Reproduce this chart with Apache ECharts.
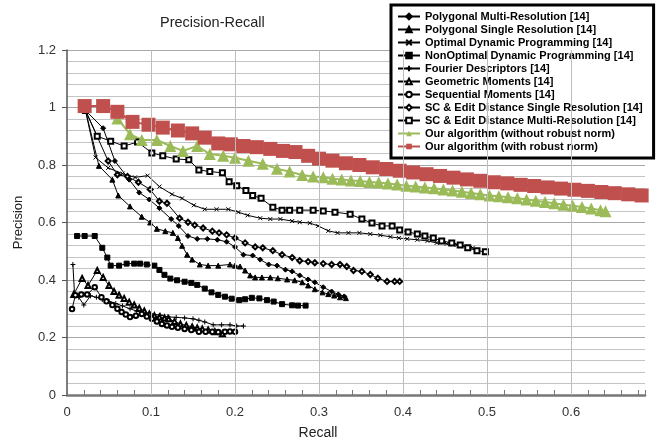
<!DOCTYPE html>
<html>
<head>
<meta charset="utf-8">
<script type="text/javascript" src="https://cdn.jsdelivr.net/npm/echarts@6.0.0/dist/echarts.min.js"></script>
</head>
<body style="margin:0; background:#fff;">
<div id="container" style="width:659px; height:445px;"></div>
<script type="text/javascript">
	// recall / precision pairs
	var polyMulti = [[0.022,0.99],[0.043,0.928],[0.057,0.814],[0.074,0.749],[0.086,0.704],[0.098,0.680],[0.110,0.650],[0.124,0.612],[0.133,0.588],[0.144,0.553],[0.155,0.543],[0.167,0.543],[0.179,0.540],[0.190,0.533],[0.200,0.515],[0.210,0.488],[0.221,0.485],[0.230,0.471],[0.240,0.454],[0.250,0.450],[0.260,0.436],[0.268,0.430],[0.277,0.416],[0.287,0.402],[0.295,0.392],[0.305,0.375],[0.315,0.360],[0.323,0.350],[0.330,0.343]];
	var polySingle = [[0.022,0.99],[0.038,0.797],[0.054,0.749],[0.061,0.694],[0.075,0.656],[0.089,0.620],[0.099,0.600],[0.107,0.578],[0.117,0.570],[0.126,0.564],[0.132,0.546],[0.137,0.519],[0.143,0.488],[0.149,0.471],[0.158,0.454],[0.168,0.450],[0.180,0.450],[0.194,0.454],[0.200,0.450],[0.206,0.447],[0.212,0.433],[0.218,0.416],[0.224,0.409],[0.232,0.409],[0.242,0.409],[0.251,0.406],[0.262,0.402],[0.271,0.399],[0.280,0.392],[0.287,0.381],[0.295,0.368],[0.304,0.357],[0.311,0.351],[0.318,0.346],[0.325,0.340],[0.332,0.337]];
	var optimalDP = [[0.022,0.99],[0.034,0.826],[0.049,0.790],[0.066,0.770],[0.081,0.757],[0.096,0.763],[0.110,0.725],[0.125,0.698],[0.137,0.684],[0.151,0.660],[0.164,0.646],[0.178,0.646],[0.192,0.646],[0.204,0.636],[0.215,0.625],[0.230,0.615],[0.242,0.612],[0.254,0.612],[0.268,0.605],[0.277,0.601],[0.289,0.598],[0.299,0.588],[0.311,0.571],[0.322,0.564],[0.335,0.564],[0.348,0.564],[0.361,0.560],[0.373,0.556],[0.385,0.550],[0.395,0.546],[0.405,0.543],[0.417,0.540],[0.429,0.536],[0.440,0.529],[0.452,0.526],[0.464,0.522],[0.476,0.515],[0.483,0.512]];
	var nonOptimalDP = [[0.012,0.553],[0.021,0.553],[0.033,0.553],[0.042,0.512],[0.048,0.478],[0.052,0.450],[0.062,0.450],[0.071,0.457],[0.080,0.457],[0.087,0.457],[0.095,0.454],[0.104,0.450],[0.110,0.435],[0.116,0.418],[0.123,0.405],[0.131,0.399],[0.140,0.394],[0.148,0.390],[0.155,0.383],[0.164,0.370],[0.172,0.357],[0.180,0.348],[0.188,0.342],[0.196,0.335],[0.205,0.330],[0.212,0.333],[0.220,0.338],[0.229,0.336],[0.238,0.330],[0.246,0.325],[0.256,0.316],[0.268,0.312],[0.275,0.311],[0.284,0.311]];
	var fourier = [[0.007,0.454],[0.009,0.350],[0.014,0.340],[0.020,0.313],[0.028,0.345],[0.035,0.340],[0.042,0.332],[0.050,0.325],[0.058,0.318],[0.066,0.310],[0.075,0.300],[0.083,0.292],[0.092,0.285],[0.100,0.282],[0.111,0.278],[0.120,0.272],[0.130,0.270],[0.140,0.268],[0.150,0.265],[0.157,0.260],[0.164,0.254],[0.174,0.244],[0.184,0.244],[0.194,0.244],[0.202,0.240],[0.210,0.240]];
	var geometric = [[0.008,0.350],[0.018,0.405],[0.025,0.381],[0.036,0.433],[0.043,0.409],[0.050,0.381],[0.056,0.360],[0.062,0.347],[0.068,0.336],[0.074,0.323],[0.080,0.313],[0.086,0.302],[0.092,0.292],[0.098,0.282],[0.104,0.276],[0.110,0.271],[0.116,0.268],[0.121,0.265],[0.128,0.256],[0.135,0.247],[0.142,0.242],[0.149,0.237],[0.155,0.233],[0.161,0.230],[0.168,0.226],[0.176,0.220],[0.185,0.213]];
	var sequential = [[0.006,0.299],[0.010,0.347],[0.017,0.350],[0.024,0.350],[0.033,0.375],[0.041,0.340],[0.047,0.326],[0.054,0.313],[0.060,0.300],[0.065,0.289],[0.070,0.280],[0.075,0.271],[0.082,0.276],[0.089,0.282],[0.095,0.273],[0.101,0.265],[0.107,0.256],[0.113,0.247],[0.119,0.242],[0.125,0.237],[0.132,0.234],[0.140,0.230],[0.148,0.226],[0.157,0.220],[0.165,0.220],[0.173,0.220],[0.180,0.219],[0.188,0.220],[0.194,0.221],[0.200,0.220]];
	var scSingle = [[0.022,0.99],[0.049,0.814],[0.060,0.766],[0.072,0.760],[0.085,0.740],[0.099,0.715],[0.110,0.674],[0.119,0.667],[0.134,0.615],[0.144,0.601],[0.152,0.591],[0.162,0.581],[0.173,0.570],[0.181,0.564],[0.190,0.557],[0.200,0.546],[0.212,0.529],[0.224,0.515],[0.233,0.512],[0.245,0.502],[0.256,0.488],[0.268,0.478],[0.277,0.467],[0.287,0.464],[0.295,0.460],[0.305,0.457],[0.315,0.454],[0.325,0.454],[0.333,0.447],[0.341,0.433],[0.351,0.430],[0.361,0.419],[0.370,0.406],[0.381,0.395],[0.390,0.395],[0.396,0.395]];
	var scMulti = [[0.022,0.99],[0.036,0.900],[0.052,0.883],[0.068,0.866],[0.084,0.880],[0.101,0.842],[0.114,0.832],[0.130,0.821],[0.145,0.818],[0.157,0.783],[0.170,0.777],[0.185,0.773],[0.193,0.742],[0.202,0.728],[0.213,0.711],[0.221,0.694],[0.231,0.684],[0.245,0.653],[0.256,0.643],[0.265,0.643],[0.277,0.643],[0.293,0.643],[0.305,0.640],[0.319,0.636],[0.337,0.629],[0.351,0.612],[0.363,0.598],[0.375,0.588],[0.387,0.588],[0.396,0.574],[0.406,0.567],[0.417,0.560],[0.426,0.553],[0.436,0.546],[0.446,0.536],[0.458,0.529],[0.468,0.522],[0.477,0.512],[0.488,0.502],[0.498,0.498]];
	var oursPlain = [[0.060,0.962],[0.075,0.907],[0.089,0.887],[0.107,0.887],[0.123,0.866],[0.138,0.849],[0.155,0.866],[0.170,0.838],[0.186,0.832],[0.200,0.825],[0.216,0.815],[0.233,0.804],[0.250,0.787],[0.265,0.777],[0.280,0.765],[0.293,0.760],[0.305,0.757],[0.316,0.752],[0.327,0.750],[0.338,0.746],[0.349,0.744],[0.360,0.741],[0.371,0.739],[0.382,0.736],[0.393,0.732],[0.404,0.728],[0.415,0.725],[0.426,0.722],[0.437,0.719],[0.448,0.715],[0.459,0.711],[0.470,0.707],[0.481,0.703],[0.492,0.698],[0.503,0.694],[0.514,0.691],[0.525,0.688],[0.536,0.684],[0.547,0.680],[0.558,0.676],[0.569,0.671],[0.580,0.667],[0.591,0.662],[0.602,0.658],[0.613,0.654],[0.624,0.649],[0.635,0.643],[0.641,0.639]];
	var oursRobust = [[0.021,1.005],[0.043,1.005],[0.060,0.985],[0.078,0.950],[0.097,0.940],[0.114,0.930],[0.132,0.920],[0.149,0.910],[0.164,0.895],[0.180,0.875],[0.195,0.872],[0.210,0.866],[0.226,0.862],[0.242,0.856],[0.257,0.849],[0.272,0.845],[0.287,0.832],[0.300,0.822],[0.316,0.815],[0.332,0.806],[0.348,0.800],[0.364,0.792],[0.380,0.786],[0.396,0.780],[0.412,0.774],[0.428,0.768],[0.444,0.762],[0.460,0.756],[0.476,0.750],[0.492,0.745],[0.508,0.740],[0.524,0.736],[0.540,0.731],[0.556,0.727],[0.572,0.722],[0.588,0.718],[0.604,0.714],[0.620,0.710],[0.636,0.706],[0.652,0.702],[0.668,0.698],[0.684,0.694]];

	var names = [
		'Polygonal Multi-Resolution [14]',
		'Polygonal Single Resolution [14]',
		'Optimal Dynamic Programming [14]',
		'NonOptimal Dynamic Programming [14]',
		'Fourier Descriptors [14]',
		'Geometric Moments [14]',
		'Sequential Moments [14]',
		'SC & Edit Distance Single Resolution [14]',
		'SC & Edit Distance Multi-Resolution [14]',
		'Our algorithm (without robust norm)',
		'Our algorithm (with robust norm)'
	];
	var xGridValues = [0.1, 0.2, 0.3, 0.4, 0.5, 0.6];

	var font = 'Liberation Sans, Arial, sans-serif';

	function blackLine(name, data, symbol, size) {
		return {
			name: name,
			type: 'line',
			data: data,
			symbol: symbol,
			symbolSize: size,
			showSymbol: true,
			lineStyle: {
				color: '#000',
				width: 1
			},
			itemStyle: {
				color: '#000',
				borderColor: '#000',
				borderWidth: 1
			}
		};
	}

	var series = [
		blackLine(names[0], polyMulti, 'diamond', 5),
		blackLine(names[1], polySingle, 'triangle', 5),
		blackLine(names[2], optimalDP, 'path://M0,0L10,10M10,0L0,10', 4),
		blackLine(names[3], nonOptimalDP, 'rect', 5),
		blackLine(names[4], fourier, 'path://M5,0L5,10M0,5L10,5', 5),
		blackLine(names[5], geometric, 'emptyTriangle', 5),
		blackLine(names[6], sequential, 'emptyCircle', 4.5),
		blackLine(names[7], scSingle, 'emptyDiamond', 5),
		blackLine(names[8], scMulti, 'emptyRect', 5),
		{
			name: names[9],
			type: 'line',
			data: oursPlain,
			symbol: 'triangle',
			symbolSize: 12,
			lineStyle: { color: '#9bbb59', width: 2 },
			itemStyle: { color: '#9bbb59' }
		},
		{
			name: names[10],
			type: 'line',
			data: oursRobust,
			symbol: 'rect',
			symbolSize: 14,
			lineStyle: { color: '#c0504d', width: 2 },
			itemStyle: { color: '#c0504d' }
		}
	];
	// vertical grid lines at the labelled recall values
	series[0].markLine = {
		silent: true,
		symbol: 'none',
		label: { show: false },
		lineStyle: { color: '#bdbdbd', width: 1, type: 'solid' },
		data: xGridValues.map(function (v) { return { xAxis: v }; })
	};

	var dom = document.getElementById('container');
	var myChart = echarts.init(dom, null, { renderer: 'canvas' });
	var option = {
		animation: false,
		backgroundColor: '#fff',
		textStyle: { fontFamily: font },
		title: {
			text: 'Precision-Recall',
			left: 155,
			top: 10,
			textStyle: {
				fontFamily: font,
				fontSize: 14.5,
				fontWeight: 'normal',
				color: '#222'
			}
		},
		legend: {
			data: names,
			orient: 'vertical',
			left: 391,
			top: 5,
			padding: [6, 11, 6, 6],
			itemGap: 2,
			itemWidth: 22,
			itemHeight: 7,
			borderColor: '#000',
			borderWidth: 3,
			backgroundColor: '#fff',
			textStyle: {
				fontFamily: font,
				fontSize: 11,
				fontWeight: 'bold',
				color: '#000'
			}
		},
		grid: {
			left: 67,
			right: 14,
			top: 50,
			bottom: 46
		},
		xAxis: {
			type: 'value',
			min: 0,
			max: 0.688,
			interval: 0.1,
			name: 'Recall',
			nameLocation: 'middle',
			nameGap: 31,
			nameTextStyle: {
				fontFamily: font,
				fontSize: 14,
				color: '#222',
				padding: [0, 76, 0, 0]
			},
			axisLine: { lineStyle: { color: '#777', width: 2.5 } },
			axisTick: { show: true, inside: true, length: 5, lineStyle: { color: '#777' } },
			minorTick: { show: true, splitNumber: 5, length: 5, lineStyle: { color: '#777' } },
			splitLine: { show: false },
			axisLabel: {
				fontFamily: font,
				fontSize: 13,
				color: '#333',
				margin: 11,
				showMaxLabel: false
			}
		},
		yAxis: {
			type: 'value',
			min: 0,
			max: 1.2,
			interval: 0.2,
			name: 'Precision',
			nameLocation: 'middle',
			nameGap: 42,
			nameTextStyle: {
				fontFamily: font,
				fontSize: 13,
				color: '#222'
			},
			axisLine: { show: true, lineStyle: { color: '#555', width: 1.5 } },
			axisTick: { show: true, length: 5, lineStyle: { color: '#555' } },
			minorTick: { show: false, splitNumber: 5 },
			splitLine: { show: true, lineStyle: { color: '#a8a8a8', width: 1 } },
			minorSplitLine: { show: true, lineStyle: { color: '#c4c4c4', width: 1 } },
			axisLabel: {
				fontFamily: font,
				fontSize: 13,
				color: '#333',
				margin: 11,
				formatter: function (v) { return String(+v.toFixed(1)); }
			}
		},
		series: series
	};
	myChart.setOption(option);
</script>
</body>
</html>
